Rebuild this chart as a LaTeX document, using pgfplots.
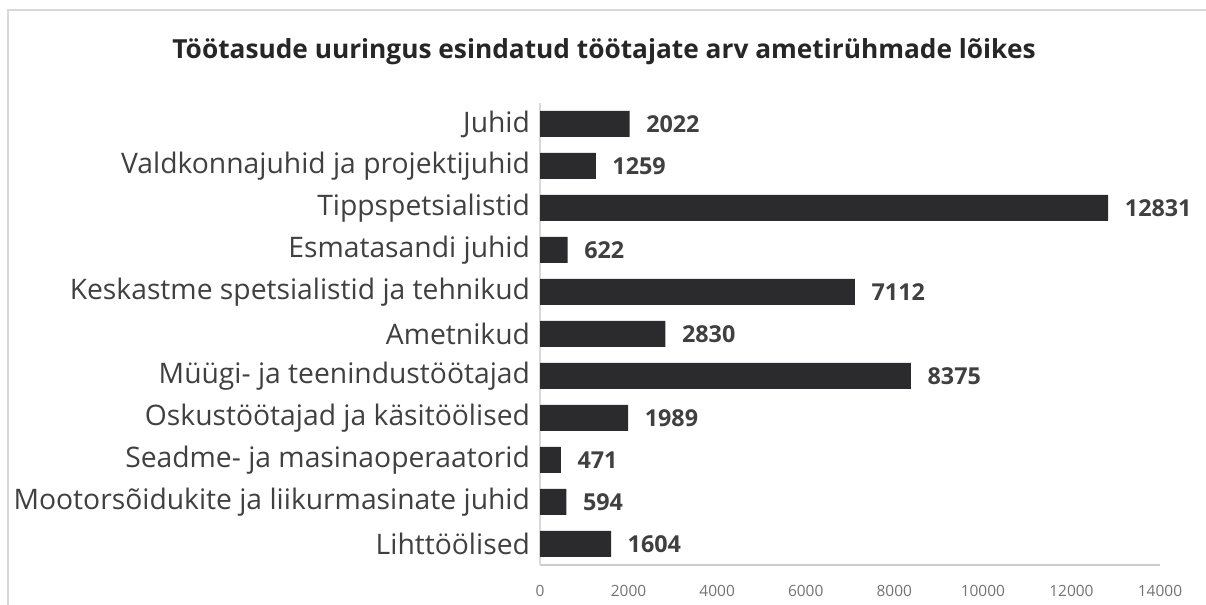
\documentclass[border=0pt]{standalone}
\usepackage{fontspec}
\setmainfont{Open Sans}
\usepackage{pgfplots}
\pgfplotsset{compat=1.18}
\definecolor{barc}{HTML}{2B2B2D}
\definecolor{labc}{HTML}{404040}
\definecolor{tickc}{HTML}{737373}
\definecolor{framec}{HTML}{D9D9D9}
\definecolor{xaxc}{HTML}{C8CCD0}
\begin{document}
\begin{tikzpicture}[x=0.75pt,y=0.75pt]
\useasboundingbox (0,0) rectangle (1206,605);
\draw[framec,line width=1.2pt] (8,0) -- (8,595) -- (1206,595);
\node[font=\fontsize{19.7}{22}\selectfont\bfseries,text=black!85] at (604,553) {Töötasude uuringus esindatud töötajate arv ametirühmade lõikes};
\begin{axis}[
  at={(405pt,30pt)}, anchor=south west,
  scale only axis, width=465pt, height=346.5pt,
  xbar, bar width=19.5pt,
  xmin=0, xmax=14000,
  ymin=-0.5, ymax=10.5,
  y dir=reverse,
  xtick={0,2000,...,14000},
  scaled x ticks=false,
  ytick={0,...,10},
  yticklabels={Juhid,Valdkonnajuhid ja projektijuhid,Tippspetsialistid,Esmatasandi juhid,Keskastme spetsialistid ja tehnikud,Ametnikud,Müügi- ja teenindustöötajad,Oskustöötajad ja käsitöölised,Seadme- ja masinaoperaatorid,Mootorsõidukite ja liikurmasinate juhid,Lihttöölised},
  yticklabel style={font=\fontsize{21.2}{24}\selectfont, text=labc, xshift=-4pt},
  xticklabel style={font=\fontsize{11.6}{13}\selectfont, text=tickc, yshift=-12pt},
  /pgf/number format/assume math mode=true,
  /pgf/number format/1000 sep={},
  major tick length=0pt,
  axis x line*=bottom, axis y line*=left,
  x axis line style={draw=xaxc, line width=1pt, -},
  y axis line style={draw=framec, line width=1pt, -},
  nodes near coords,
  nodes near coords style={font=\fontsize{17.5}{20}\selectfont\bfseries, text=labc, anchor=west, xshift=9pt},
  point meta=x,
  clip=false,
]
\addplot[fill=barc, draw=none] coordinates {
(2022,0) (1259,1) (12831,2) (622,3) (7112,4) (2830,5) (8375,6) (1989,7) (471,8) (594,9) (1604,10)
};
\end{axis}
\end{tikzpicture}
\end{document}
